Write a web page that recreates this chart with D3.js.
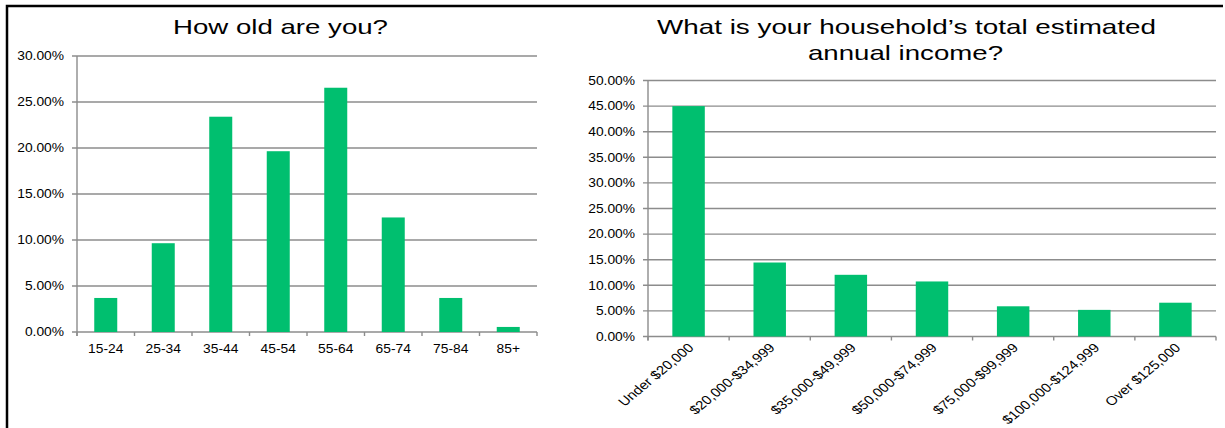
<!DOCTYPE html>
<html>
<head>
<meta charset="utf-8">
<script src="https://cdn.jsdelivr.net/npm/d3@7"></script>
<style>
  html, body { margin: 0; padding: 0; background: #fff; }
  svg { display: block; }
  text { font-family: "Liberation Sans", Arial, sans-serif; fill: #000; }
</style>
</head>
<body>
<svg id="chart" width="1225" height="428"></svg>
<script>
// Survey results: age groups
const ageTitle = "How old are you?";
const ageGroups = ["15-24", "25-34", "35-44", "45-54", "55-64", "65-74", "75-84", "85+"];
const agePct = [3.7, 9.65, 23.4, 19.65, 26.55, 12.45, 3.7, 0.55];
const ageTicks = [0, 5, 10, 15, 20, 25, 30];

// Survey results: household income
const incomeTitle = ["What is your household\u2019s total estimated", "annual income?"];
const incomeGroups = ["Under $20,000", "$20,000-$34,999", "$35,000-$49,999", "$50,000-$74,999",
                      "$75,000-$99,999", "$100,000-$124,999", "Over $125,000"];
const incomePct = [45.0, 14.45, 12.05, 10.75, 5.9, 5.2, 6.6];
const incomeTicks = [0, 5, 10, 15, 20, 25, 30, 35, 40, 45, 50];

const barColor = "#00bf6f";
const gridColor = "#8c8c8c";
const fmtPct = d => d.toFixed(2) + "%";

const svg = d3.select("#chart");

// outer frame (left and top edges)
svg.append("path")
  .attr("d", "M7,428 V6 H1223")
  .attr("fill", "none")
  .attr("stroke", "#000")
  .attr("stroke-width", 2.5);

function drawPanel(opts) {
  const g = svg.append("g");
  const x = d3.scaleBand()
    .domain(opts.categories)
    .range([opts.left, opts.right])
    .paddingInner(0.6)
    .paddingOuter(0.3);
  const y = d3.scaleLinear()
    .domain([0, d3.max(opts.ticks)])
    .range([opts.bottom, opts.top]);

  // horizontal gridlines
  g.append("g").selectAll("line")
    .data(opts.ticks)
    .join("line")
    .attr("x1", opts.left - 5)
    .attr("x2", opts.right)
    .attr("y1", d => y(d))
    .attr("y2", d => y(d))
    .attr("stroke", gridColor)
    .attr("stroke-width", 1.4);

  // y axis line
  g.append("line")
    .attr("x1", opts.left).attr("x2", opts.left)
    .attr("y1", y(d3.max(opts.ticks))).attr("y2", opts.bottom + 4)
    .attr("stroke", gridColor).attr("stroke-width", 1.4);

  // y tick labels
  g.append("g").selectAll("text")
    .data(opts.ticks)
    .join("text")
    .attr("transform", d => `translate(${opts.left - 13},${y(d)}) scale(1.15,1)`)
    .attr("text-anchor", "end")
    .attr("dy", "0.35em")
    .attr("font-size", 12)
    .text(fmtPct);

  // category boundary ticks on the x axis
  const step = x.step();
  const bounds = d3.range(opts.categories.length + 1).map(i => opts.left + i * step);
  g.append("g").selectAll("line")
    .data(bounds)
    .join("line")
    .attr("x1", d => d).attr("x2", d => d)
    .attr("y1", opts.bottom).attr("y2", opts.bottom + 4)
    .attr("stroke", gridColor).attr("stroke-width", 1.4);

  // bars
  g.append("g").selectAll("rect")
    .data(opts.categories.map((c, i) => ({ c, v: opts.values[i] })))
    .join("rect")
    .attr("x", d => x(d.c))
    .attr("width", x.bandwidth())
    .attr("y", d => y(d.v))
    .attr("height", d => opts.bottom - y(d.v))
    .attr("fill", barColor);

  // category labels
  const labels = g.append("g").selectAll("text")
    .data(opts.categories)
    .join("text")
    .attr("font-size", opts.rotate ? 12.5 : 12)
    .text(d => d);
  if (opts.rotate) {
    labels
      .attr("text-anchor", "end")
      .attr("transform", d => `translate(${x(d) + x.bandwidth() / 2 + 6},${opts.bottom + 12}) scale(1.2,1) rotate(-45)`);
  } else {
    labels
      .attr("text-anchor", "middle")
      .attr("transform", d => `translate(${x(d) + x.bandwidth() / 2},${opts.bottom + 21}) scale(1.15,1)`);
  }

  // title
  g.append("g").selectAll("text")
    .data(opts.title)
    .join("text")
    .attr("x", (d, i) => opts.titleX[i])
    .attr("y", (d, i) => opts.titleY[i])
    .attr("text-anchor", "middle")
    .attr("font-size", 21)
    .attr("textLength", (d, i) => opts.titleW[i])
    .attr("lengthAdjust", "spacingAndGlyphs")
    .text(d => d);
}

drawPanel({
  categories: ageGroups, values: agePct, ticks: ageTicks,
  left: 77, right: 537, top: 56, bottom: 332,
  title: [ageTitle], titleX: [280.5], titleY: [34], titleW: [215],
  rotate: false
});

drawPanel({
  categories: incomeGroups, values: incomePct, ticks: incomeTicks,
  left: 648, right: 1216, top: 80.5, bottom: 336.5,
  title: incomeTitle, titleX: [906.5, 905.5], titleY: [34, 60], titleW: [499, 195],
  rotate: true
});
</script>
</body>
</html>
